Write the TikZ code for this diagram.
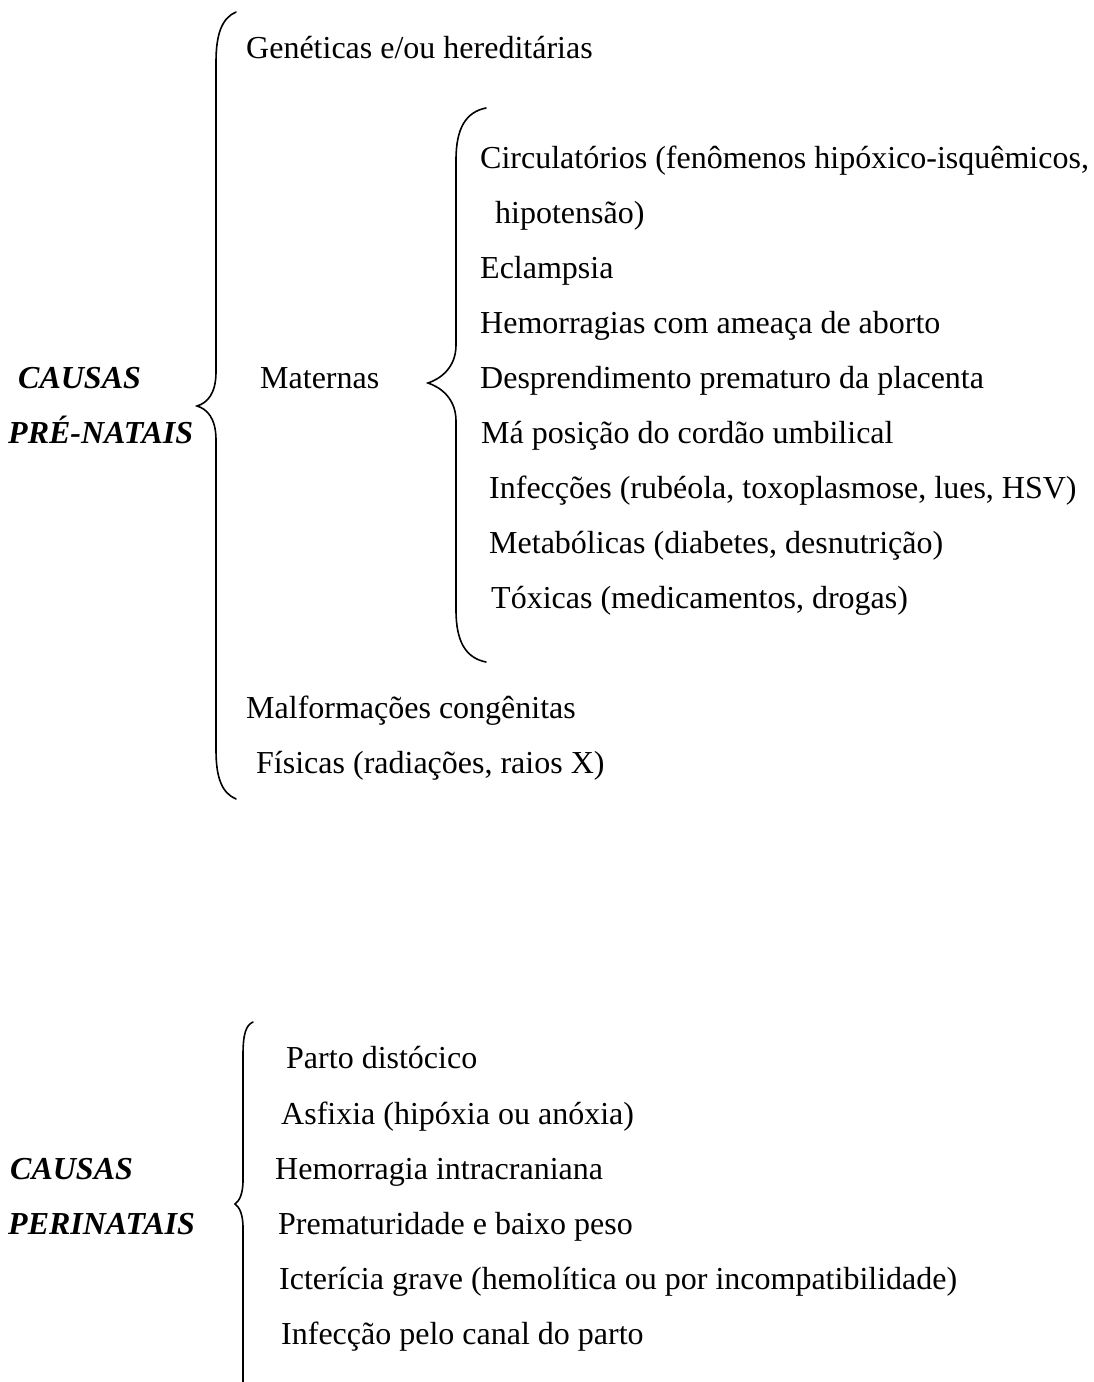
\documentclass[tikz,border=0pt]{standalone}
\usepackage{fontspec}
\setmainfont{Liberation Serif}
\begin{document}
\begin{tikzpicture}[x=1pt,y=-1pt,
  item/.style={anchor=base west,inner sep=0pt,font=\fontsize{32}{38}\selectfont},
  head/.style={item,font=\fontsize{32}{38}\selectfont\bfseries\itshape},
  bracepath/.style={draw=black,line width=1.6pt,line cap=round}]
\useasboundingbox (0,0) rectangle (1094,1382);
% ---------- PRE-NATAIS ----------
\node[head] (cpre1) at (18,388) {CAUSAS};
\node[head] (cpre2) at (8,443) {PRÉ-NATAIS};
\node[item] (gen) at (246,58) {Genéticas e/ou hereditárias};
\node[item] (mat) at (260,388) {Maternas};
\node[item] (m1) at (480,168) {Circulatórios (fenômenos hipóxico-isquêmicos,};
\node[item] (m2) at (495,223) {hipotensão)};
\node[item] (m3) at (480,278) {Eclampsia};
\node[item] (m4) at (480,333) {Hemorragias com ameaça de aborto};
\node[item] (m5) at (480,388) {Desprendimento prematuro da placenta};
\node[item] (m6) at (481,443) {Má posição do cordão umbilical};
\node[item] (m7) at (489,498) {Infecções (rubéola, toxoplasmose, lues, HSV)};
\node[item] (m8) at (489,553) {Metabólicas (diabetes, desnutrição)};
\node[item] (m9) at (491,608) {Tóxicas (medicamentos, drogas)};
\node[item] (malf) at (246,718) {Malformações congênitas};
\node[item] (fis) at (256,773) {Físicas (radiações, raios X)};
% big brace
\coordinate (b1top) at (236,12);
\coordinate (b1tip) at (197,406);
\coordinate (b1bot) at (236,799);
\path[bracepath] (b1top) .. controls (222,18) and (216,34) .. (216,62)
  -- (216,372) .. controls (216,394) and (207,403) .. (b1tip)
  .. controls (207,409) and (216,418) .. (216,440)
  -- (216,750) .. controls (216,778) and (222,793) .. (b1bot);
% maternas brace
\coordinate (b2top) at (486,108);
\coordinate (b2tip) at (428,383);
\coordinate (b2bot) at (486,662);
\path[bracepath] (b2top) .. controls (466,112) and (456,128) .. (456,160)
  -- (456,345) .. controls (456,368) and (440,379) .. (b2tip)
  .. controls (440,387) and (456,398) .. (456,421)
  -- (456,610) .. controls (456,642) and (466,658) .. (b2bot);
% ---------- PERINATAIS ----------
\node[head] (cper1) at (10,1179) {CAUSAS};
\node[head] (cper2) at (8,1234) {PERINATAIS};
\node[item] (p1) at (286,1068) {Parto distócico};
\node[item] (p2) at (281,1124) {Asfixia (hipóxia ou anóxia)};
\node[item] (p3) at (275,1179) {Hemorragia intracraniana};
\node[item] (p4) at (278,1234) {Prematuridade e baixo peso};
\node[item] (p5) at (279,1289) {Icterícia grave (hemolítica ou por incompatibilidade)};
\node[item] (p6) at (281,1344) {Infecção pelo canal do parto};
\coordinate (b3top) at (253,1022);
\coordinate (b3tip) at (235,1204);
\coordinate (b3bot) at (253,1420);
\path[bracepath] (b3top) .. controls (246,1025) and (243,1034) .. (243,1055)
  -- (243,1180) .. controls (243,1195) and (239,1201) .. (b3tip)
  .. controls (239,1207) and (243,1213) .. (243,1228)
  -- (243,1380) .. controls (243,1400) and (246,1415) .. (b3bot);
\end{tikzpicture}
\end{document}
